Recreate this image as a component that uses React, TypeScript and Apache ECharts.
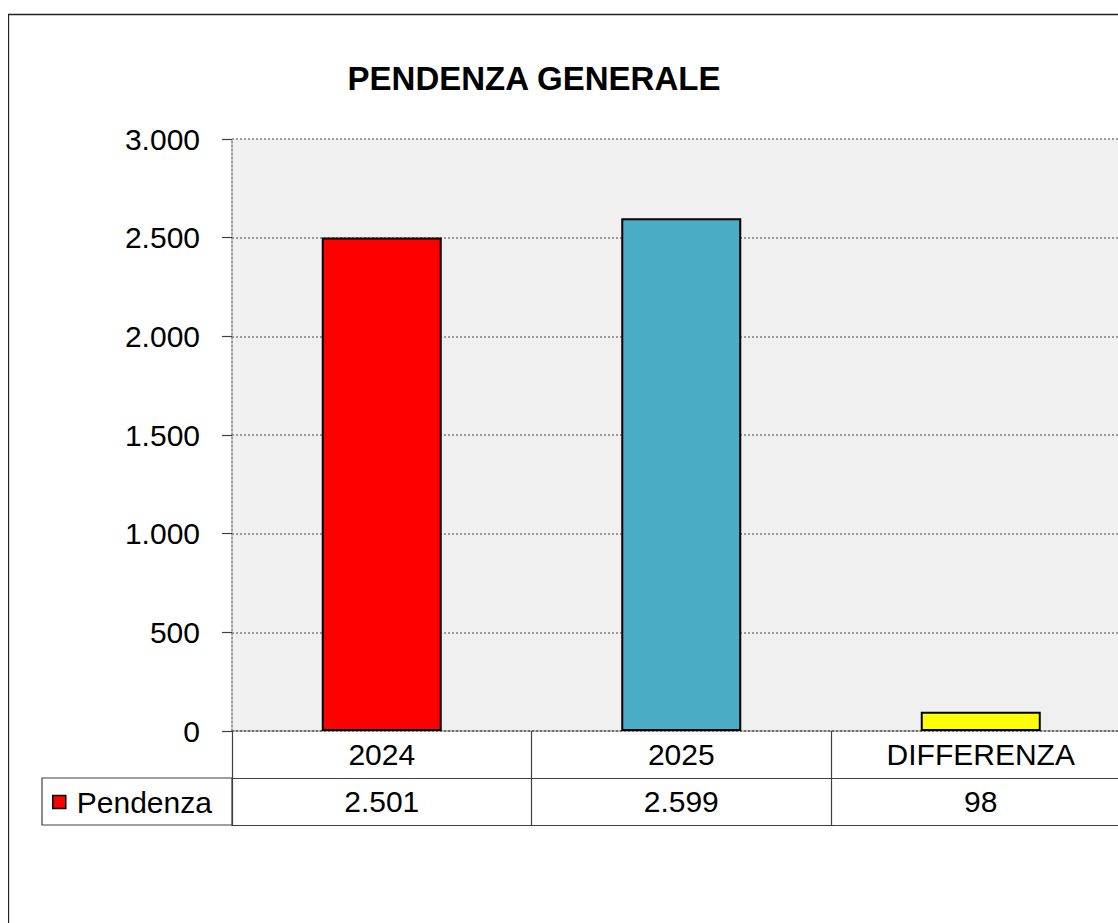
import React, { useEffect, useRef } from "react";
import * as echarts from "echarts";

const TITLE = "PENDENZA GENERALE";
const SERIES_NAME = "Pendenza";
const categories = ["2024", "2025", "DIFFERENZA"];
const values = [2501, 2599, 98];
const barColors = ["#ff0000", "#4bacc6", "#ffff00"];
const yMin = 0;
const yMax = 3000;
const yInterval = 500;

const FONT = "'Liberation Sans', Arial, sans-serif";
const fmt = (v: number) => String(v).replace(/\B(?=(\d{3})+(?!\d))/g, ".");

export default function App() {
  const ref = useRef<HTMLDivElement>(null);
  useEffect(() => {
    if (!ref.current) return;
    const chart = echarts.init(ref.current, undefined, { renderer: "svg" });
    const tableLine = { color: "#404040", width: 1.2 };
    chart.setOption({
      animation: false,
      backgroundColor: "#ffffff",
      grid: {
        left: 224,
        top: 131,
        right: 0.5,
        bottom: 192,
        show: true,
        backgroundColor: "#f0f0f0",
        borderWidth: 0,
        containLabel: false,
      },
      legend: {
        show: true,
        data: [SERIES_NAME],
        left: 44,
        top: 779,
        padding: 0,
        icon: "rect",
        itemWidth: 13,
        itemHeight: 13,
        itemStyle: { color: "#ff0000", borderColor: "#000000", borderWidth: 1.5 },
        textStyle: {
          fontFamily: FONT,
          fontSize: 30,
          lineHeight: 30,
          color: "#000000",
          padding: [0, 0, 0, 6],
        },
        selectedMode: false,
      },
      xAxis: [
        {
          type: "category",
          data: categories,
          position: "bottom",
          axisLine: { show: true, lineStyle: { color: "#606060", width: 1.5, type: [2, 2] } },
          axisTick: { show: true, length: 47, lineStyle: tableLine },
          axisLabel: { fontFamily: FONT, fontSize: 30, color: "#000000", margin: 8 },
          splitLine: { show: false },
        },
        {
          type: "category",
          data: values.map(fmt),
          position: "bottom",
          offset: 47,
          axisLine: { show: true, lineStyle: tableLine },
          axisTick: { show: true, length: 47, lineStyle: tableLine },
          axisLabel: { fontFamily: FONT, fontSize: 30, color: "#000000", margin: 8 },
          splitLine: { show: false },
        },
        {
          type: "category",
          data: categories,
          position: "bottom",
          offset: 94,
          axisLine: { show: true, lineStyle: tableLine },
          axisTick: { show: false },
          axisLabel: { show: false },
          splitLine: { show: false },
        },
      ],
      yAxis: {
        type: "value",
        min: yMin,
        max: yMax,
        interval: yInterval,
        axisLine: { show: true, lineStyle: { color: "#808080", width: 1.5, type: [2, 2] } },
        axisTick: { show: true, length: 10, lineStyle: { color: "#404040", width: 1.2 } },
        axisLabel: {
          fontFamily: FONT,
          fontSize: 30,
          color: "#000000",
          margin: 32,
          formatter: (v: number) => fmt(v),
        },
        splitLine: { show: true, lineStyle: { color: "#808080", width: 1.5, type: [2, 2] } },
      },
      graphic: [
        {
          type: "rect",
          silent: true,
          shape: { x: 0.5, y: 6.5, width: 1300, height: 1100 },
          style: { fill: "none", stroke: "#202020", lineWidth: 1.3 },
        },
        {
          type: "rect",
          silent: true,
          shape: { x: 34, y: 770, width: 190, height: 47 },
          style: { fill: "none", stroke: "#404040", lineWidth: 1.2 },
        },
        {
          type: "text",
          x: 526,
          y: 70,
          style: {
            text: TITLE,
            fontFamily: FONT,
            fontSize: 33,
            fontWeight: "bold",
            fill: "#000000",
            textAlign: "center",
            textVerticalAlign: "middle",
          },
        },
      ],
      series: [
        {
          name: SERIES_NAME,
          type: "bar",
          barWidth: 120,
          data: values.map((v, i) => ({
            value: v,
            itemStyle: { color: barColors[i], borderColor: "#000000", borderWidth: 2 },
          })),
        },
      ],
    });
    return () => chart.dispose();
  }, []);
  return (
    <div
      style={{
        position: "fixed",
        left: 8,
        top: 8,
        width: 1110,
        height: 915,
        overflow: "hidden",
      }}
    >
      <div ref={ref} style={{ width: 1123, height: 915 }} />
    </div>
  );
}
